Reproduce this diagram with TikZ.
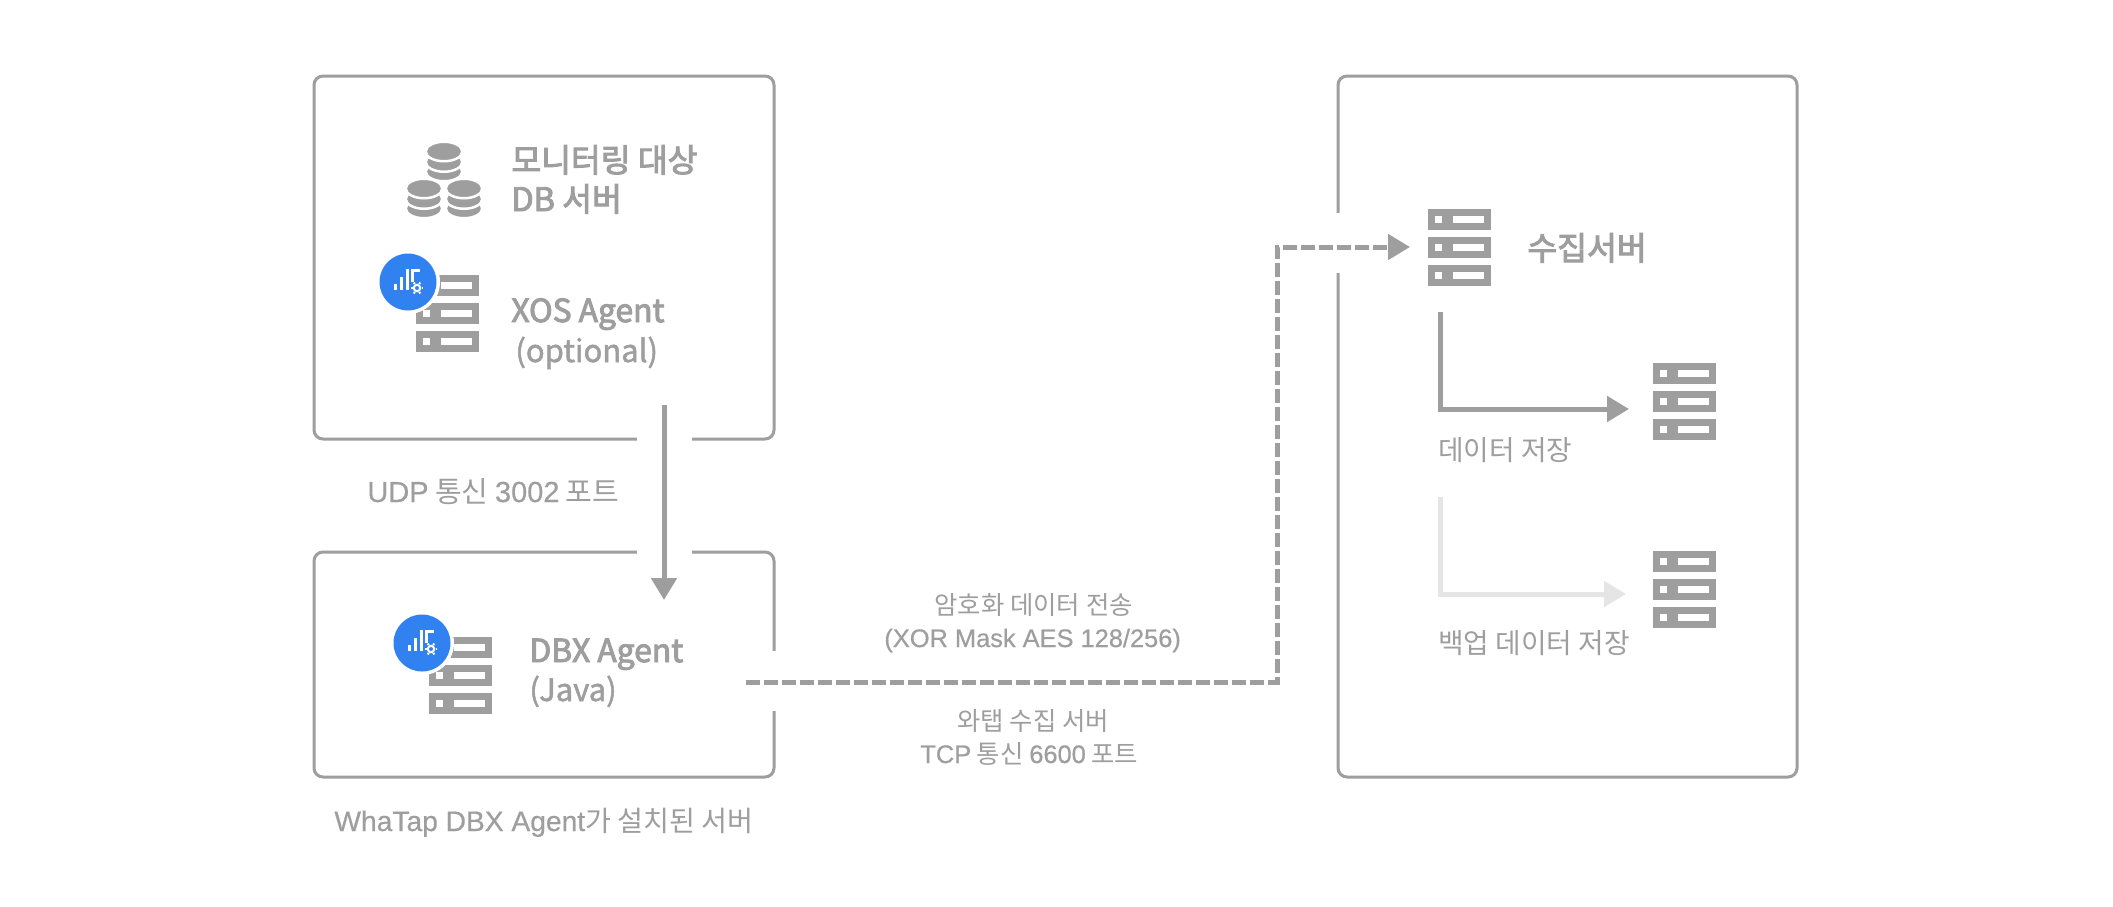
\documentclass[tikz,border=0pt]{standalone}
\usepackage{fontspec}
\setmainfont{Noto Sans CJK KR}
\newfontfamily\lat[FakeBold=0.5]{Liberation Sans}
\newfontfamily\medf[FakeBold=3]{Noto Sans CJK KR}
\newfontfamily\semif[FakeBold=1.6]{Noto Sans CJK KR}
\usetikzlibrary{arrows.meta}
\definecolor{gr}{HTML}{9E9E9E}
\definecolor{lgr}{HTML}{E5E5E5}
\definecolor{blu}{HTML}{3182F0}
\tikzset{
 x=0.5pt,y=-0.5pt,
 frame/.style={draw=gr,line width=1.5pt,rounded corners=4.5pt},
 gapmask/.style={fill=white,draw=none},
 conn/.style={draw=gr,line width=2.5pt,-{Triangle[length=11pt,width=12.5pt]}},
 dashconn/.style={conn,dash pattern=on 6.85pt off 2.15pt},
 lightconn/.style={draw=lgr,line width=2.5pt,-{Triangle[length=11pt,width=12.5pt,fill=lgr]}},
 lab/.style={anchor=base west,inner sep=0pt,text=gr,font=\fontsize{12.7}{16}\selectfont},
 labb/.style={anchor=base west,inner sep=0pt,text=gr,font=\fontsize{13.9}{16}\selectfont},
 head/.style={anchor=base west,inner sep=0pt,text=gr,font=\fontsize{16.2}{18}\selectfont\medf},
 sub/.style={anchor=base west,inner sep=0pt,text=gr,font=\fontsize{15.5}{18}\selectfont\semif},
 serverpic/.pic={
  \foreach \yy in {0,28,56}{
   \fill[gr] (0,\yy) rectangle (63,\yy+21);
   \fill[white] (7,\yy+7) rectangle (14,\yy+14);
   \fill[white] (25,\yy+7) rectangle (56,\yy+14);
  }
 },
 badgepic/.pic={
  \fill[white] (0,0) circle[radius=32];
  \fill[blu] (0,0) circle[radius=28.5];
  \fill[white] (-14.3,2) rectangle (-11.5,8);
  \fill[white] (-8.3,-5) rectangle (-5.5,8);
  \fill[white] (-2.3,-13) rectangle (0.5,8);
  \fill[white] (3.3,-13) rectangle (6.1,0);
  \fill[white] (3.3,-13) rectangle (12,-10.5);
  \draw[white,line width=1pt] (9,6) circle[radius=3.2];
  \foreach \aa in {0,60,...,300}{
   \draw[white,line width=1pt] (9,6) ++(\aa:4.5) -- ++(\aa:1.9);
  }
 },
 dbpic/.pic={
  \foreach \yy in {28.5,19,8.5}{
   \filldraw[fill=gr,draw=white,line width=1.25pt] (0,\yy) circle[x radius=18.25,y radius=9.75];
  }
 }
}
\begin{document}
\begin{tikzpicture}
\useasboundingbox[fill=white] (0,0) rectangle (2113,906);
% frames
\node[frame,minimum width=230pt,minimum height=181.5pt,inner sep=0pt] (target) at (544,257.5) {};
\node[frame,minimum width=230pt,minimum height=112.5pt,inner sep=0pt] (dbx) at (544,664.5) {};
\node[frame,minimum width=229.5pt,minimum height=350.5pt,inner sep=0pt] (coll) at (1567.5,426.5) {};
\fill[gapmask] (637,430) rectangle (692,445);
\fill[gapmask] (637,545) rectangle (692,560);
\fill[gapmask] (765,651) rectangle (785,711);
\fill[gapmask] (1330,213) rectangle (1346,273);
% icons
\pic at (444,143) {dbpic};
\pic at (424,180) {dbpic};
\pic at (464,180) {dbpic};
\pic at (416,275) {serverpic};
\pic at (408,282) {badgepic};
\pic at (429,637) {serverpic};
\pic at (422,643) {badgepic};
\pic at (1428,209) {serverpic};
\pic at (1653,363) {serverpic};
\pic at (1653,551) {serverpic};
% connector ends
\coordinate (udpA) at (664,405);
\coordinate (udpB) at (664,600);
\coordinate (tcpA) at (746,682);
\coordinate (tcpC) at (1277,682);
\coordinate (tcpD) at (1277,247);
\coordinate (tcpB) at (1410,247);
\coordinate (stA) at (1440,312);
\coordinate (stC) at (1440,409);
\coordinate (stB) at (1629,409);
\coordinate (bkA) at (1440,497);
\coordinate (bkC) at (1440,594);
\coordinate (bkB) at (1626,594);
\draw[conn] (udpA) -- (udpB);
\draw[dashconn] (tcpA) -- (tcpC) -- (tcpD) -- (tcpB);
\draw[conn] (stA) -- (stC) -- (stB);
\draw[lightconn] (bkA) -- (bkC) -- (bkB);
% texts
\node[head] (t1) at (511,172) {모니터링 대상};
\node[head] (t2) at (511,211) {DB 서버};
\node[head,font=\fontsize{15.9}{18}\selectfont\medf] (t3) at (511,322) {XOS Agent};
\node[sub] (t4) at (515,362) {(optional)};
\node[head,font=\fontsize{15.9}{18}\selectfont\medf] (t5) at (529,662) {DBX Agent};
\node[sub] (t6) at (529,701) {(Java)};
\node[head] (t7) at (1527,260) {수집서버};
\node[labb] (l1) at (367,502) {\fontsize{14.5}{16}\selectfont{\lat UDP} 통신 {\lat 3002} 포트};
\node[labb] (l2) at (334,831) {\fontsize{14.1}{16}\selectfont{\lat WhaTap DBX Agent}가 설치된 서버};
\node[lab] (l3) at (934,614) {암호화 데이터 전송};
\node[lab] (l4) at (884,647) {\lat (XOR Mask AES 128/256)};
\node[lab] (l5) at (957,730) {와탭 수집 서버};
\node[lab] (l6) at (920,763) {{\lat TCP} 통신 {\lat 6600} 포트};
\node[labb] (l7) at (1438,460) {데이터 저장};
\node[labb] (l8) at (1438,653) {백업 데이터 저장};
\end{tikzpicture}
\end{document}
